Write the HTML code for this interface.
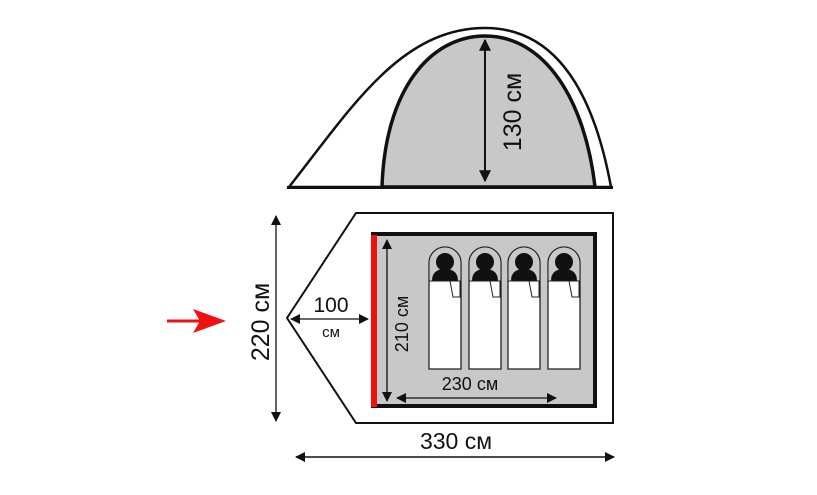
<!DOCTYPE html>
<html><head><meta charset="utf-8"><style>
html,body{margin:0;padding:0;background:#fff;}
svg{display:block;}
text{font-family:"Liberation Sans",sans-serif;fill:#111;}
</style></head><body>
<svg width="817" height="495" viewBox="0 0 817 495" xmlns="http://www.w3.org/2000/svg">
<defs>
<marker id="ah" viewBox="0 0 10 10" refX="9" refY="5" markerWidth="12" markerHeight="10" orient="auto-start-reverse" markerUnits="userSpaceOnUse">
<path d="M0,0 L10,5 L0,10 z" fill="#111"/></marker>
<marker id="ah2" viewBox="0 0 10 10" refX="9" refY="5" markerWidth="14" markerHeight="12" orient="auto-start-reverse" markerUnits="userSpaceOnUse">
<path d="M0,0 L10,5 L0,10 z" fill="#111"/></marker>
<g id="bag">
<path d="M0,123 V17 A16,16 0 0 1 32,17 V123 Z" fill="#fff" stroke="#222" stroke-width="1.3"/>
<path d="M0.7,35 V17 A15.3,15.3 0 0 1 31.3,17 V35 Z" fill="#c8c8c8"/>
<circle cx="16" cy="16" r="9" fill="#111"/>
<path d="M3,35 Q3,23 16,23 Q29,23 29,35 Z" fill="#111"/>
<path d="M0,35 H21" stroke="#222" stroke-width="1"/>
<path d="M21,35 L31,35 L31,51 L24,51 Z" fill="#fff" stroke="#222" stroke-width="1"/>
</g>
</defs>

<!-- side view -->
<path d="M289,187 C350,110 400,28 485,28 C560,28 595,100 611,187 Z" fill="#fff" stroke="#111" stroke-width="2.5"/>
<path d="M382,187 C385,90 430,36 485,36 C545,36 585,100 595,187 Z" fill="#c8c8c8" stroke="#111" stroke-width="3.5"/>
<line x1="287" y1="187.5" x2="613" y2="187.5" stroke="#111" stroke-width="3"/>
<line x1="485" y1="40" x2="485" y2="181" stroke="#111" stroke-width="2" marker-start="url(#ah2)" marker-end="url(#ah2)"/>
<text x="0" y="0" font-size="25" text-anchor="middle" transform="translate(521,112) rotate(-90)">130 см</text>

<!-- top view -->
<path d="M356,213 H613 V423 H356 L287,318 Z" fill="#fff" stroke="#111" stroke-width="2"/>
<rect x="373" y="234" width="222" height="172" fill="#c8c8c8" stroke="#111" stroke-width="4"/>
<rect x="371" y="235" width="6" height="172" fill="#f01010"/>
<use href="#bag" x="429" y="246"/>
<use href="#bag" x="469" y="246"/>
<use href="#bag" x="508" y="246"/>
<use href="#bag" x="548" y="246"/>

<line x1="387" y1="240" x2="387" y2="401" stroke="#111" stroke-width="1.3" marker-start="url(#ah)" marker-end="url(#ah)"/>
<text x="0" y="0" font-size="18" text-anchor="middle" transform="translate(408,324) rotate(-90)">210 см</text>
<line x1="397" y1="398" x2="556" y2="398" stroke="#111" stroke-width="1.3" marker-start="url(#ah)" marker-end="url(#ah)"/>
<text x="470" y="390" font-size="18" text-anchor="middle">230 см</text>

<line x1="291" y1="319" x2="368" y2="319" stroke="#111" stroke-width="1.3" marker-start="url(#ah)" marker-end="url(#ah)"/>
<text x="331" y="312" font-size="21" text-anchor="middle">100</text>
<text x="331" y="337" font-size="15" text-anchor="middle">см</text>

<line x1="276" y1="216" x2="276" y2="421" stroke="#111" stroke-width="1.3" marker-start="url(#ah)" marker-end="url(#ah)"/>
<text x="0" y="0" font-size="25" text-anchor="middle" transform="translate(269,322) rotate(-90)">220 см</text>

<line x1="296" y1="457" x2="614" y2="457" stroke="#111" stroke-width="1.5" marker-start="url(#ah)" marker-end="url(#ah)"/>
<text x="456" y="449" font-size="23" text-anchor="middle">330 см</text>

<!-- red arrow -->
<line x1="167" y1="321" x2="205" y2="321" stroke="#f01010" stroke-width="3"/>
<path d="M193,309 L226,321 L193,333 L200,321 Z" fill="#f01010"/>
</svg>
</body></html>
